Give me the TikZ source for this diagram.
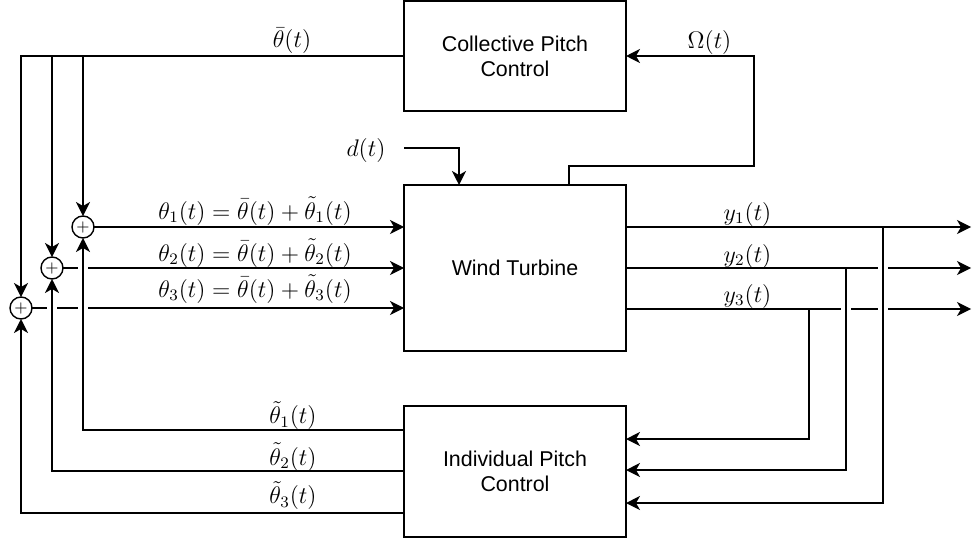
\documentclass[tikz,border=0pt]{standalone}
\usepackage{fontspec}
\usepackage{amsmath}
\usepackage{tikz}
\usetikzlibrary{shapes,arrows.meta,positioning,calc}
\newfontfamily\blockfont{Liberation Sans}
\tikzstyle{block} = [draw, rectangle, minimum width=111pt, align=center, inner sep=0pt, outer sep=0pt, font=\blockfont\fontsize{10.7}{12.5}\selectfont]
\tikzstyle{sumnode} = [draw, circle, minimum size=11pt, inner sep=0pt, outer sep=0pt, font=\fontsize{8.5}{8.5}\selectfont]
\tikzstyle{arrow} = [-{Stealth[length=7pt, width=7pt, inset=2pt]}]
\tikzstyle{hop} = [preaction={draw=white, -, line width=5pt, shorten <=3pt, shorten >=3pt}]
\tikzstyle{lbl} = [font=\fontsize{12}{14}\selectfont, inner sep=0pt, anchor=base]

\begin{document}
\begin{tikzpicture}[x=0.5pt, y=-0.5pt, line width=0.7pt]
\useasboundingbox (0,0) rectangle (972,540);

% blocks
\node[block, minimum height=55pt] (cpc) at (515,56) {Collective Pitch\\Control};
\node[block, minimum height=83pt] (wt) at (515,268) {Wind Turbine};
\node[block, minimum height=65.5pt] (ipc) at (515,471.5) {Individual Pitch\\Control};

% summing junctions
\foreach \i/\x/\y in {1/83/227, 2/52/268, 3/21/308}
  \node[sumnode] (s\i) at (\x,\y) {$+$};

% collective pitch down to the junctions
\draw[arrow] (cpc.west) -| (s3.north);
\foreach \i in {1,2}
  \draw[arrow] (s\i |- cpc.west) -- (s\i.north);
\node[lbl] (thb) at (292,47.5) {$\bar{\theta}(t)$};

% blade pitch into the turbine
\foreach \i in {1,2,3}
  \draw[arrow] (s\i.east) -- (s\i -| wt.west);
\foreach \i/\y in {1/219, 2/261, 3/297}
  \node[lbl] (th\i) at (255,\y) {$\theta_\i(t) = \bar{\theta}(t) + \tilde{\theta}_\i(t)$};

% individual pitch back to the junctions
\foreach \i/\y in {1/430, 2/471, 3/513}
  \draw[arrow, hop] (ipc.west |- 0,\y) -| (s\i.south);
\foreach \i/\y in {1/423.5, 2/465, 3/503.5}
  \node[lbl] (tht\i) at (293,\y) {$\tilde{\theta}_\i(t)$};

% turbine outputs
\foreach \i/\y in {1/227, 2/268, 3/309} {
  \coordinate (out\i) at (971,\y);
  \draw[arrow] (wt.east |- out\i) -- (out\i);
}
\foreach \i/\y in {1/220, 2/262, 3/302}
  \node[lbl] (y\i) at (747.5,\y) {$y_\i(t)$};

% outputs fed to the individual pitch control
\foreach \i/\x/\y in {1/883/503, 2/846/470, 3/809/439}
  \draw[arrow, hop] (out\i -| \x,0) |- (ipc.east |- 0,\y);

% rotor speed to collective pitch
\coordinate (omc) at (754,166);
\draw[arrow] ([xshift=27pt]wt.north) |- (omc) |- (cpc.east);
\node[lbl] (om) at (709.5,48.5) {$\Omega(t)$};

% disturbance
\node[lbl] (dl) at (366,156) {$d(t)$};
\coordinate (din) at (404,148);
\draw[arrow] (din) -| ([xshift=-28pt]wt.north);
\end{tikzpicture}
\end{document}
